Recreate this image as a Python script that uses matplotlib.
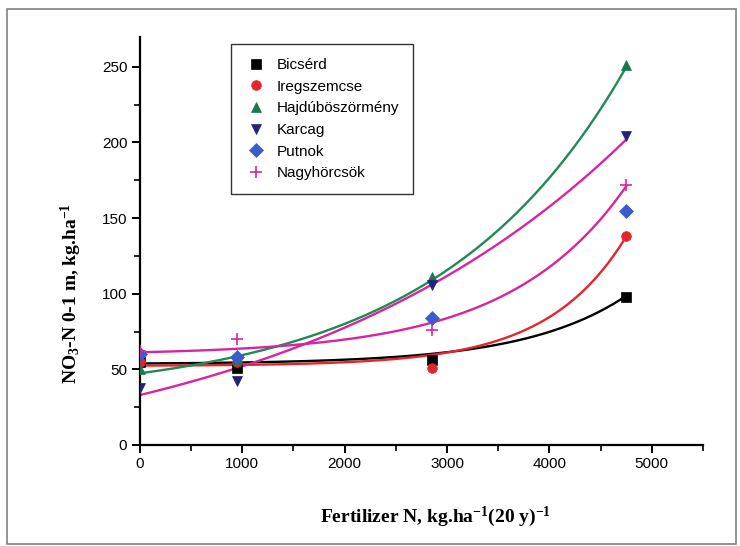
import matplotlib
matplotlib.use("Agg")
import matplotlib.pyplot as plt
from matplotlib.patches import Rectangle
from matplotlib.ticker import MultipleLocator
import numpy

# fertilizer N, kg/ha over 20 years
fert_n = [0, 950, 2850, 4750]

sites = ["Bicsérd", "Iregszemcse", "Hajdúböszörmény", "Karcag", "Putnok", "Nagyhörcsök"]
bicserd = [55, 51, 56, 98]
iregszemcse = [55, 55, 51, 138]
hajduboszormeny = [50, 57, 111, 251]
karcag = [38, 42, 106, 204]
putnok = [60, 58, 84, 155]
nagyhorcsok = [62, 70, 76, 172]

# exponential fit curves: y = a + b*exp(c*x/1000)
# (Putnok has no fitted curve)
fit_a = [53.5, 52.3, 30.7, -22.9, None, 59.5]
fit_b = [0.39, 0.178, 16.7, 55.9, None, 1.79]
fit_c = [1.0, 1.3, 0.542, 0.293, None, 0.87]

markers = ["s", "o", "^", "v", "D", "+"]
colors = ["black", "#e3262b", "#17774f", "#23237a", "#3a5ccc", "#d8259e"]
line_colors = ["black", "#e3262b", "#1e8a55", "#d8259e", None, "#d8259e"]

plt.rcParams['mathtext.default'] = 'regular'

fig = plt.figure(figsize=(7.4, 5.46), dpi=100)
fig.patches.append(Rectangle((0.009, 0.004), 0.985, 0.98, transform=fig.transFigure,
                             fill=False, edgecolor="#808080", linewidth=1.2))
ax = fig.add_axes([0.189, 0.185, 0.761, 0.748])

series = [bicserd, iregszemcse, hajduboszormeny, karcag, putnok, nagyhorcsok]
xx = numpy.linspace(0, fert_n[-1], 200)
for a, b, c, lc in zip(fit_a, fit_b, fit_c, line_colors):
    if lc is None:
        continue
    ax.plot(xx, a + b * numpy.exp(c * xx / 1000.0), color=lc, linewidth=1.7, zorder=2)

for name, vals, m, c in zip(sites, series, markers, colors):
    ms = 9 if m == "+" else 7
    ax.plot(fert_n, vals, linestyle="none", marker=m, color=c, markersize=ms,
            markeredgewidth=1.2 if m == "+" else 0.5, label=name, zorder=3)

ax.set_xlim(0, 5500)
ax.set_ylim(0, 270)
ax.xaxis.set_major_locator(MultipleLocator(1000))
ax.xaxis.set_minor_locator(MultipleLocator(500))
ax.yaxis.set_major_locator(MultipleLocator(50))
ax.yaxis.set_minor_locator(MultipleLocator(25))
for s in ["top", "right"]:
    ax.spines[s].set_visible(False)
for s in ["left", "bottom"]:
    ax.spines[s].set_linewidth(1.6)
ax.tick_params(which="major", length=6, width=1.4, labelsize=11, pad=3)
ax.tick_params(which="minor", length=4, width=1.2)
for lab in ax.get_xticklabels() + ax.get_yticklabels():
    lab.set_fontfamily("Liberation Sans")

ax.set_xlabel("Fertilizer N, kg.ha$^{-1}$(20 y)$^{-1}$", fontfamily="Liberation Serif",
              fontweight="bold", fontsize=14)
ax.xaxis.set_label_coords(0.525, -0.145)
ax.set_ylabel("NO$_3$-N 0-1 m, kg.ha$^{-1}$", fontfamily="Liberation Serif",
              fontweight="bold", fontsize=14)
ax.yaxis.set_label_coords(-0.1, 0.37)

leg = ax.legend(loc="upper left", bbox_to_anchor=(0.148, 1.0), frameon=True, fancybox=False,
                edgecolor="black", prop={"family": "Liberation Sans", "size": 11},
                handlelength=1.5, handletextpad=0.6, labelspacing=0.5, borderpad=0.9)
leg.get_frame().set_linewidth(1.0)

fig.savefig("out.png", dpi=100)
